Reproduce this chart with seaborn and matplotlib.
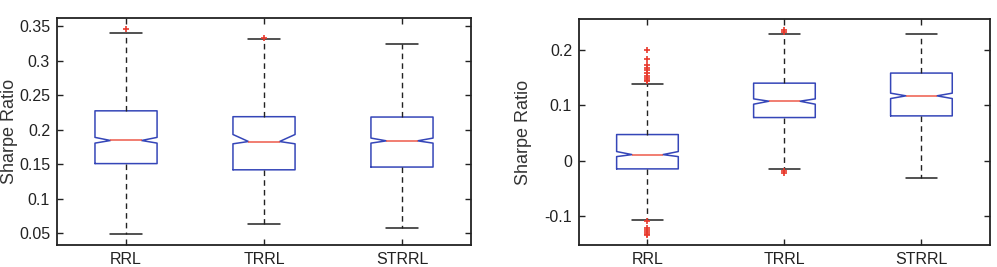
import numpy as np
import pandas as pd
import matplotlib
matplotlib.use("Agg")
import matplotlib.pyplot as plt
import seaborn as sns

methods = ["RRL", "TRRL", "STRRL"]

# left panel: five-number summaries
left_whislo = [0.049, 0.064, 0.057]
left_q1 = [0.151, 0.142, 0.146]
left_med = [0.1845, 0.183, 0.184]
left_q3 = [0.2275, 0.219, 0.2185]
left_whishi = [0.340, 0.332, 0.3245]
left_cilo = [0.1807, 0.1797, 0.1807]
left_cihi = [0.189, 0.1932, 0.188]
left_out_rrl = [0.346]
left_out_trrl = [0.333]
left_out_strrl = []

# right panel
right_whislo = [-0.1066, -0.0145, -0.032]
right_q1 = [-0.015, 0.0777, 0.0807]
right_med = [0.0108, 0.1072, 0.1169]
right_q3 = [0.047, 0.1398, 0.158]
right_whishi = [0.138, 0.2277, 0.229]
right_cilo = [0.0072, 0.1018, 0.112]
right_cihi = [0.0163, 0.1114, 0.1217]
right_out_rrl = [0.199, 0.183, 0.172, 0.167, 0.163, 0.158, 0.153, 0.149, 0.146, 0.143,
                 -0.109, -0.122, -0.126, -0.129, -0.132, -0.134]
right_out_trrl = [0.236, 0.233, -0.019, -0.023]
right_out_strrl = []

left_yticks = [0.05, 0.1, 0.15, 0.2, 0.25, 0.3, 0.35]
left_yticklabels = ["0.05", "0.1", "0.15", "0.2", "0.25", "0.3", "0.35"]
right_yticks = [-0.1, 0, 0.1, 0.2]
right_yticklabels = ["-0.1", "0", "0.1", "0.2"]

sns.set_style("ticks")
plt.rcParams["font.family"] = ["Liberation Sans", "DejaVu Sans"]

box_blue = "#3546b8"
med_red = "#ee5a4a"


def panel(ax, whislo, q1, med, q3, whishi, cilo, cihi, outs, ylim, yticks, yticklabels, label_x):
    # outliers drawn with seaborn on a categorical axis
    rows = []
    for m, vals in zip(methods, outs):
        for v in vals:
            rows.append({"method": m, "value": v})
    df = pd.DataFrame(rows, columns=["method", "value"])
    sns.stripplot(data=df, x="method", y="value", order=methods, jitter=False,
                  marker="+", color="#e8392c", size=5, linewidth=1.2, ax=ax, zorder=4)

    stats = []
    for i in range(len(methods)):
        stats.append({"med": med[i], "q1": q1[i], "q3": q3[i],
                      "whislo": whislo[i], "whishi": whishi[i],
                      "cilo": cilo[i], "cihi": cihi[i], "fliers": []})
    ax.bxp(stats, positions=range(len(methods)), widths=0.45, shownotches=True,
           showfliers=False, manage_ticks=False,
           boxprops=dict(color=box_blue, linewidth=1.1),
           medianprops=dict(color=med_red, linewidth=1.1),
           whiskerprops=dict(color="#222222", linewidth=1.0, linestyle=(0, (4, 3))),
           capprops=dict(color="#222222", linewidth=1.1))

    ax.set_xlim(-0.5, 2.5)
    ax.set_ylim(*ylim)
    ax.set_yticks(yticks)
    ax.set_yticklabels(yticklabels)
    ax.set_xlabel("")
    ax.set_ylabel("Sharpe Ratio", fontsize=13, color="#333333")
    ax.yaxis.set_label_coords(label_x, 0.5)
    ax.tick_params(direction="in", length=4, width=1.0, top=True, right=True,
                   labelsize=11.5, colors="#222222", pad=5)
    for s in ax.spines.values():
        s.set_visible(True)
        s.set_linewidth(1.3)
        s.set_color("#222222")


fig = plt.figure(figsize=(9.97, 2.67), dpi=100)
ax1 = fig.add_axes([0.0572, 0.0824, 0.4152, 0.850])
ax2 = fig.add_axes([0.5807, 0.0824, 0.4122, 0.846])

panel(ax1, left_whislo, left_q1, left_med, left_q3, left_whishi, left_cilo, left_cihi,
      [left_out_rrl, left_out_trrl, left_out_strrl], (0.033, 0.362),
      left_yticks, left_yticklabels, -0.094)
panel(ax2, right_whislo, right_q1, right_med, right_q3, right_whishi, right_cilo, right_cihi,
      [right_out_rrl, right_out_trrl, right_out_strrl], (-0.1524, 0.2554),
      right_yticks, right_yticklabels, -0.114)

fig.savefig("out.png", dpi=100)
